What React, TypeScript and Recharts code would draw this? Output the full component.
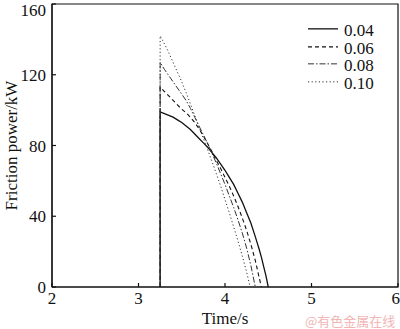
import { LineChart, Line, XAxis, YAxis, ReferenceArea, Label } from "recharts";

// friction coefficient of each curve
const names = ["0.04", "0.06", "0.08", "0.10"];

// time (s) and friction power (kW)
const time004 = [3.25, 3.25, 3.3, 3.35, 3.4, 3.45, 3.5, 3.55, 3.6, 3.65, 3.7, 3.75, 3.8, 3.85, 3.9, 3.95, 4.0, 4.05, 4.1, 4.15, 4.2, 4.25, 4.3, 4.35, 4.375, 4.4, 4.425, 4.45, 4.475, 4.5];
const power004 = [0, 99, 98, 97, 96, 94.5, 93, 91, 89, 86.5, 84, 81.5, 79, 76, 73, 69.5, 66, 62, 58, 53, 48, 42, 36, 28.5, 24.5, 20.5, 16, 11, 6, 0];

const time006 = [3.25, 3.25, 3.3, 3.35, 3.4, 3.45, 3.5, 3.55, 3.6, 3.65, 3.7, 3.75, 3.8, 3.85, 3.9, 3.95, 4.0, 4.05, 4.1, 4.15, 4.2, 4.25, 4.3, 4.35, 4.42];
const power006 = [0, 113, 110.5, 108, 105.5, 103, 100.5, 98.5, 96, 93, 89.5, 85.5, 81, 76.5, 71.5, 67, 62, 57, 51.5, 45.5, 39, 32, 24, 15, 0];

const time008 = [3.25, 3.25, 3.3, 3.35, 3.4, 3.45, 3.5, 3.55, 3.6, 3.65, 3.7, 3.75, 3.8, 3.85, 3.9, 3.95, 4.0, 4.05, 4.1, 4.15, 4.2, 4.25, 4.3, 4.35];
const power008 = [0, 127, 123, 119.5, 116, 112.5, 109, 105.5, 101, 96, 91, 86, 81, 75.5, 70, 64, 58, 51.5, 45, 38, 30.5, 22, 12, 0];

const time010 = [3.25, 3.25, 3.3, 3.35, 3.4, 3.45, 3.5, 3.55, 3.6, 3.65, 3.7, 3.75, 3.8, 3.85, 3.9, 3.95, 4.0, 4.05, 4.1, 4.15, 4.2, 4.25, 4.29];
const power010 = [0, 142, 137.5, 132.5, 127, 121.5, 116, 110, 103.5, 97, 90.5, 84, 77.5, 71, 64, 57, 49.5, 42, 34, 26, 17.5, 8.5, 0];

const xTicks = [2, 3, 4, 5, 6];
const yTicks = [0, 40, 80, 120, 160];

const FONT = "'Liberation Serif', 'Times New Roman', serif";

const series = [
  { name: names[0], time: time004, power: power004, dash: undefined, width: 1.3, color: "#111" },
  { name: names[1], time: time006, power: power006, dash: "4 3", width: 1.1, color: "#111" },
  { name: names[2], time: time008, power: power008, dash: "6 2 1.5 2", width: 1, color: "#333" },
  { name: names[3], time: time010, power: power010, dash: "1.2 2.4", width: 1, color: "#333" },
].map((s) => ({ ...s, data: s.time.map((t, i) => ({ t, p: s.power[i] })) }));

function LegendBox() {
  return (
    <div style={{ position: "absolute", left: 308, top: 20, fontFamily: FONT, fontSize: 17, color: "#111" }}>
      {series.map((s) => (
        <div key={s.name} style={{ display: "flex", alignItems: "center", height: 17.7 }}>
          <svg width={30} height={17.7}>
            <line x1={0} x2={30} y1={8.85} y2={8.85} stroke={s.color} strokeWidth={s.width} strokeDasharray={s.dash} />
          </svg>
          <span style={{ marginLeft: 6, lineHeight: "17.7px", position: "relative", top: 2 }}>{s.name}</span>
        </div>
      ))}
    </div>
  );
}

export default function App() {
  return (
    <div style={{ position: "absolute", left: 0, top: 0, width: 400, height: 329, background: "#fff" }}>
      <LineChart width={400} height={329} data={series[0].data} margin={{ top: 4, right: 2, bottom: 0, left: 0 }}>
        <XAxis
          dataKey="t"
          type="number"
          domain={[2, 6]}
          ticks={xTicks}
          height={42}
          tickSize={-4}
          tickMargin={9}
          allowDataOverflow
          axisLine={{ stroke: "#111", strokeWidth: 1.2 }}
          tickLine={{ stroke: "#111", strokeWidth: 1.2 }}
          tick={{ fontSize: 17, fontFamily: FONT, fill: "#111" }}
        >
          <Label value="Time/s" position="insideBottom" offset={5} style={{ fontSize: 17, fontFamily: FONT, fill: "#111" }} />
        </XAxis>
        <YAxis
          type="number"
          domain={[0, 160]}
          ticks={yTicks}
          width={52}
          tickSize={-4}
          tickMargin={10}
          axisLine={{ stroke: "#111", strokeWidth: 1.2 }}
          tickLine={{ stroke: "#111", strokeWidth: 1.2 }}
          tick={{ fontSize: 17, fontFamily: FONT, fill: "#111" }}
        >
          <Label
            value="Friction power/kW"
            angle={-90}
            position="insideLeft"
            offset={11}
            style={{ fontSize: 17, fontFamily: FONT, fill: "#111", textAnchor: "middle" }}
          />
        </YAxis>
        <ReferenceArea x1={2} x2={6} y1={0} y2={160} fill="none" stroke="#111" strokeWidth={1.2} />
        {series.map((s) => (
          <Line
            key={s.name}
            data={s.data}
            dataKey="p"
            name={s.name}
            type="linear"
            stroke={s.color}
            strokeWidth={s.width}
            strokeDasharray={s.dash}
            dot={false}
            activeDot={false}
            isAnimationActive={false}
          />
        ))}
      </LineChart>
      <LegendBox />
      <div
        style={{
          position: "absolute",
          left: 305,
          top: 314,
          fontSize: 13,
          lineHeight: "14px",
          fontFamily: "'Noto Sans CJK SC', sans-serif",
          color: "#f2b5b5",
          whiteSpace: "nowrap",
        }}
      >
        @有色金属在线
      </div>
    </div>
  );
}
